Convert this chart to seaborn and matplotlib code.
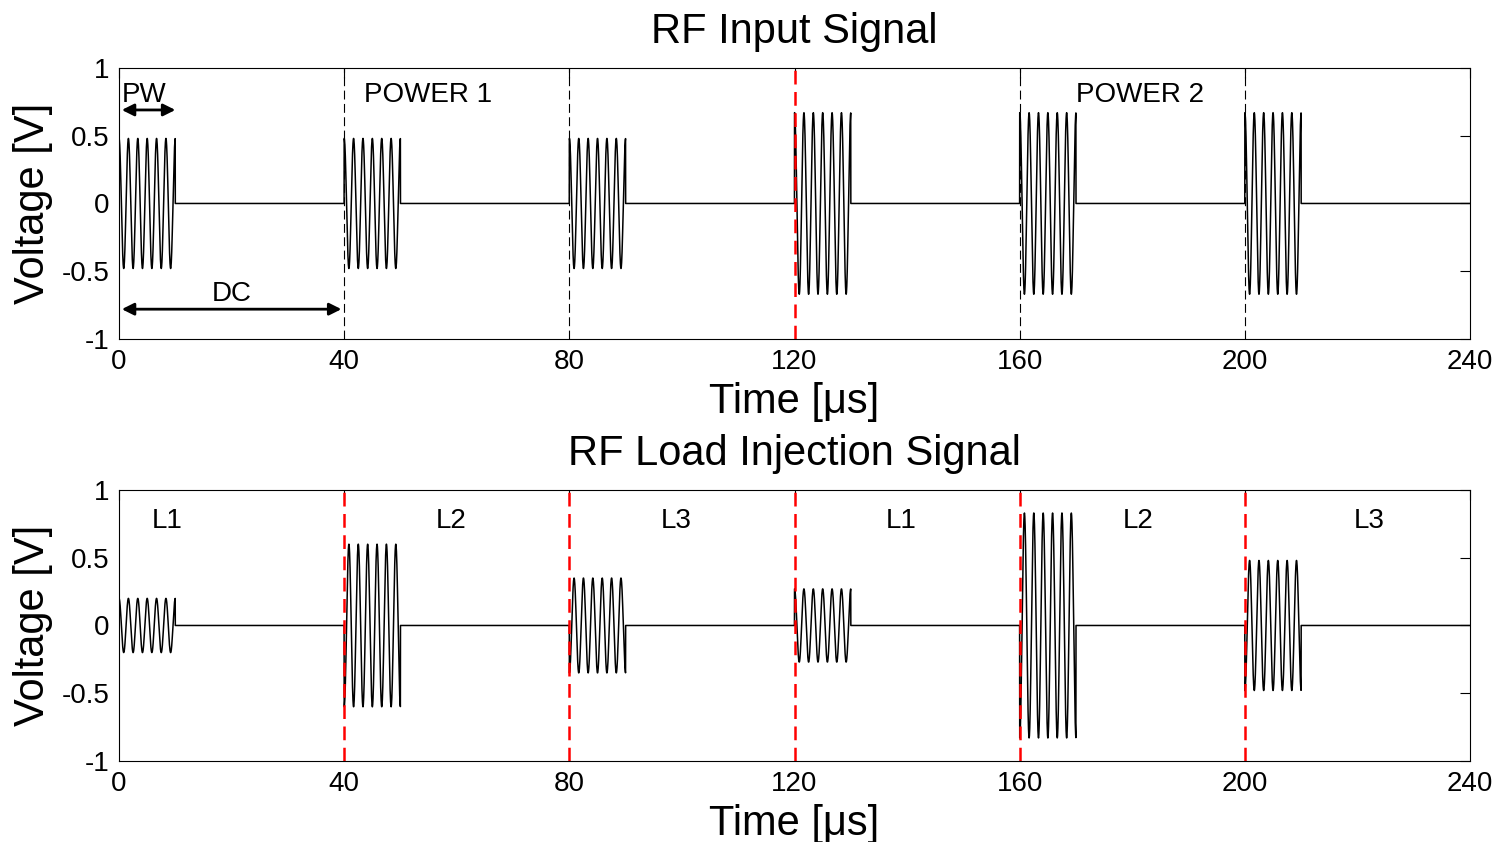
import numpy as np
import pandas as pd
import matplotlib
matplotlib.use("Agg")
import matplotlib.pyplot as plt
import seaborn as sns

# pulse train description (times in microseconds)
pulse_starts = [0, 40, 80, 120, 160, 200]
pulse_width = 10
carrier_mhz = 0.6
sample_us = 0.02

input_amps = [0.48, 0.48, 0.48, 0.67, 0.67, 0.67]
input_phase = [0, 0, 0, 0, 0, 0]
load_amps = [0.2, 0.6, 0.35, 0.27, 0.83, 0.48]
load_phase = [0, 3.14, 3.14, 0, 3.14, 3.14]
load_labels = ["L1", "L2", "L3", "L1", "L2", "L3"]
load_label_x = [8.5, 59, 99, 139, 181, 222]

input_black_lines = [40, 80, 160, 200]
input_red_lines = [120]
load_red_lines = [40, 80, 120, 160, 200]

x_ticks = [0, 40, 80, 120, 160, 200, 240]
y_ticks = [-1, -0.5, 0, 0.5, 1]


def pulse_frame(amps, phases):
    t = np.arange(0, 240 + sample_us, sample_us)
    v = np.zeros_like(t)
    for s, a, ph in zip(pulse_starts, amps, phases):
        m = (t >= s) & (t < s + pulse_width)
        v[m] = a * np.cos(2 * np.pi * carrier_mhz * (t[m] - s) + ph)
    return pd.DataFrame({"time": t, "voltage": v})


df_in = pulse_frame(input_amps, input_phase)
df_load = pulse_frame(load_amps, load_phase)

sns.set_style("white")
plt.rcParams["font.family"] = ["Liberation Sans", "DejaVu Sans"]
plt.rcParams["text.color"] = "black"
plt.rcParams["axes.labelcolor"] = "black"
plt.rcParams["xtick.color"] = "black"
plt.rcParams["ytick.color"] = "black"

fig = plt.figure(figsize=(14.99, 8.42), dpi=100)
ax1 = fig.add_axes([0.0794, 0.5974, 0.9013, 0.3219])
ax2 = fig.add_axes([0.0794, 0.0962, 0.9013, 0.3219])

for ax, df, title in [(ax1, df_in, "RF Input Signal"), (ax2, df_load, "RF Load Injection Signal")]:
    sns.lineplot(data=df, x="time", y="voltage", ax=ax, color="black",
                 linewidth=1.1, estimator=None)
    ax.set_xlim(0, 240)
    ax.set_ylim(-1, 1)
    ax.set_xticks(x_ticks)
    ax.set_yticks(y_ticks)
    ax.set_yticklabels(["-1", "-0.5", "0", "0.5", "1"])
    ax.tick_params(direction="in", top=True, right=True, labelsize=20, length=7, width=0.8, pad=7)
    for sp in ax.spines.values():
        sp.set_color("black")
        sp.set_linewidth(0.8)
    ax.set_title(title, fontsize=30, pad=18, color="black")
    ax.set_xlabel("Time [\u03bcs]", fontsize=30, labelpad=5)
    ax.set_ylabel("Voltage [V]", fontsize=30, labelpad=6)

for x in input_black_lines:
    ax1.axvline(x, color="black", linestyle=(0, (8, 4)), linewidth=0.8)
for x in input_red_lines:
    ax1.axvline(x, color="red", linestyle=(0, (5.5, 3)), linewidth=1.8)
for x in load_red_lines:
    ax2.axvline(x, color="red", linestyle=(0, (5.5, 3)), linewidth=1.8)

# annotations on input signal
ax1.annotate("", xy=(0, 0.69), xytext=(10.5, 0.69),
             arrowprops=dict(arrowstyle="<|-|>", color="black", lw=2, mutation_scale=18))
ax1.text(0.5, 0.8, "PW", fontsize=20, ha="left", va="center")
ax1.annotate("", xy=(0, -0.78), xytext=(40, -0.78),
             arrowprops=dict(arrowstyle="<|-|>", color="black", lw=2, mutation_scale=18))
ax1.text(20, -0.67, "DC", fontsize=20, ha="center", va="center")
ax1.text(43.5, 0.8, "POWER 1", fontsize=20, ha="left", va="center")
ax1.text(170, 0.8, "POWER 2", fontsize=20, ha="left", va="center")

for lab, x in zip(load_labels, load_label_x):
    ax2.text(x, 0.77, lab, fontsize=20, ha="center", va="center")

fig.savefig("out.png", dpi=100)
